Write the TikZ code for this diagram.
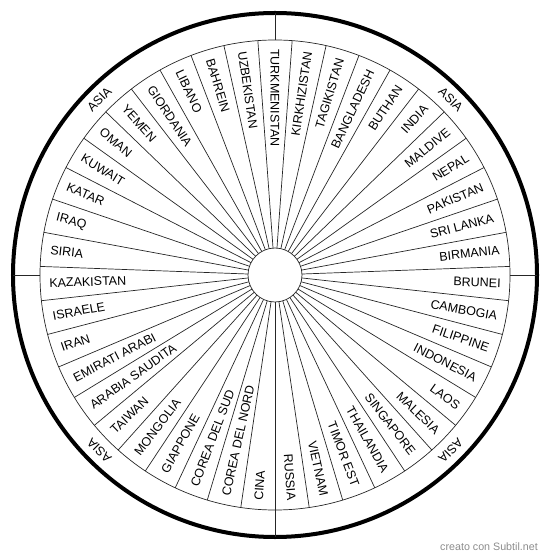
\documentclass[tikz,border=0pt]{standalone}
\usepackage{fontspec}
\setmainfont{Liberation Sans}

\begin{document}
\begin{tikzpicture}[x=1pt,y=1pt,
 lbl/.style={font=\fontsize{12.5}{14}\selectfont,inner sep=0pt},
 spoke/.style={draw=black!85,line width=.7pt}]
 \useasboundingbox (-275,-284) rectangle (275,275);
 \draw[line width=4pt] (0,0) circle (262);
 \draw[spoke] (0,0) circle (235);
 \draw[spoke] (0,0) circle (27);
 % quarter marks of the outer ring
 \foreach \a in {0,90,180,270}
  \draw[spoke] (\a:235) -- (\a:262);
 \foreach \a [count=\k] in {45,135,225,315}
  \node[lbl,rotate=\a-90] (asia\k) at (\a:248.5) {ASIA};
 % one sector per country, clockwise from the top
 \foreach \c [count=\i from 0] in {TURKMENISTAN,KIRKHIZISTAN,TAGIKISTAN,
  BANGLADESH,BUTHAN,INDIA,MALDIVE,NEPAL,PAKISTAN,SRI LANKA,BIRMANIA,BRUNEI,
  CAMBOGIA,FILIPPINE,INDONESIA,LAOS,MALESIA,SINGAPORE,THAILANDIA,TIMOR EST,
  VIETNAM,RUSSIA,CINA,COREA DEL NORD,COREA DEL SUD,GIAPPONE,MONGOLIA,TAIWAN,
  ARABIA SAUDITA,EMIRATI ARABI,IRAN,ISRAELE,KAZAKISTAN,SIRIA,IRAQ,KATAR,
  KUWAIT,OMAN,YEMEN,GIORDANIA,LIBANO,BAHREIN,UZBEKISTAN}{
  \pgfmathsetmacro\ang{90-\i*360/43}
  \pgfmathtruncatemacro\side{(\i>0)&&(\i<22)}
  \draw[spoke] (\ang+180/43:27) -- (\ang+180/43:235);
  \ifnum\side=1
   \node[lbl,anchor=east,rotate=\ang] (c\i) at (\ang:226) {\c};
  \else
   \node[lbl,anchor=west,rotate=\ang+180] (c\i) at (\ang:226) {\c};
  \fi}
 \node[font=\fontsize{10.7}{12}\selectfont,text=black!45] (credit) at (214,-272) {creato con Subtil.net};
\end{tikzpicture}
\end{document}
